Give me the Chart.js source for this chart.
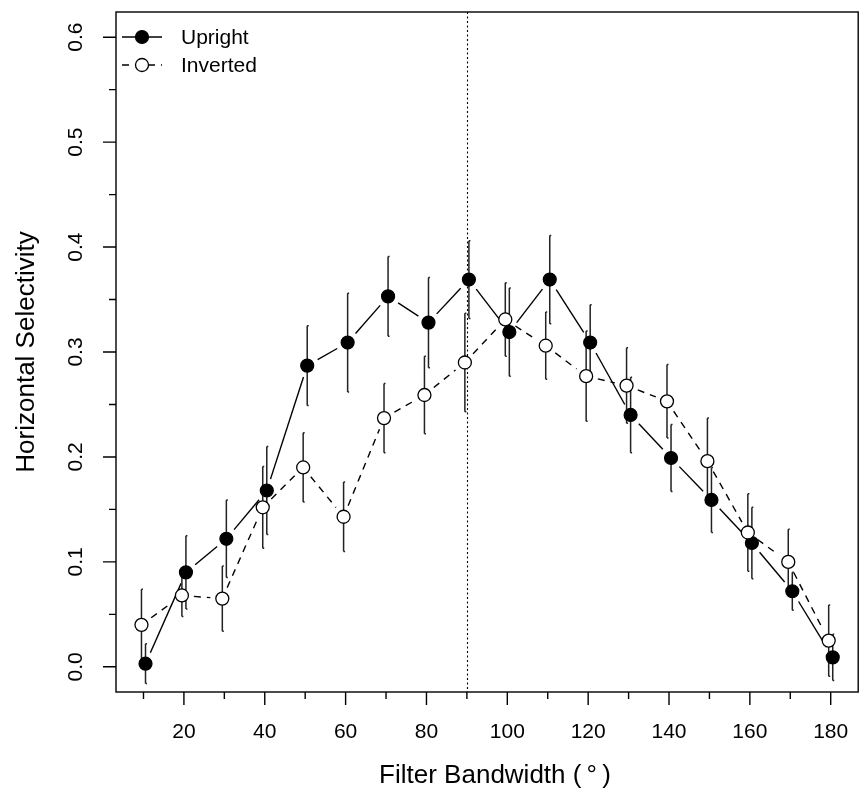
<!DOCTYPE html>
<html>
<head>
<meta charset="utf-8">
<title>Horizontal Selectivity vs Filter Bandwidth</title>
<script src="https://cdn.jsdelivr.net/npm/chart.js@4.4.1/dist/chart.umd.min.js"></script>
<style>
    html, body { margin: 0; padding: 0; background: #fff; overflow: hidden; }
    #wrap { width: 866px; height: 794px; }
</style>
</head>
<body>
<div id="wrap"><canvas id="chart" width="866" height="794"></canvas></div>
<script>
// ---- Data ----
const bandwidth = [10, 20, 30, 40, 50, 60, 70, 80, 90, 100, 110, 120, 130, 140, 150, 160, 170, 180];
const upright     = [0.003, 0.090, 0.122, 0.168, 0.287, 0.309, 0.353, 0.328, 0.369, 0.319, 0.369, 0.309, 0.240, 0.199, 0.159, 0.118, 0.072, 0.009];
const uprightErr  = [0.019, 0.035, 0.037, 0.042, 0.038, 0.047, 0.038, 0.043, 0.037, 0.042, 0.042, 0.036, 0.036, 0.032, 0.031, 0.034, 0.018, 0.022];
const inverted    = [0.040, 0.068, 0.065, 0.152, 0.190, 0.143, 0.237, 0.259, 0.290, 0.331, 0.306, 0.277, 0.268, 0.253, 0.196, 0.128, 0.100, 0.025];
const invertedErr = [0.034, 0.020, 0.031, 0.039, 0.033, 0.033, 0.033, 0.037, 0.047, 0.035, 0.032, 0.043, 0.036, 0.035, 0.041, 0.037, 0.031, 0.034];

// small horizontal dodge so the two series don't sit on top of each other
const dodge = 0.5;

// ---- Axis ticks ----
const xTickLabels = [20, 40, 60, 80, 100, 120, 140, 160, 180];
const xMinorTicks = [10, 30, 50, 70, 90, 110, 130, 150, 170];
const yTickLabels = [0.0, 0.1, 0.2, 0.3, 0.4, 0.5, 0.6];
const yMinorTicks = [0.05, 0.15, 0.25, 0.35, 0.45, 0.55];
const refLineX = 90;

const FONT = '"Liberation Sans", Arial, Helvetica, sans-serif';

function toPoints(xs, ys, shift) {
    return xs.map((x, i) => ({ x: x + shift, y: ys[i] }));
}

// ---- Plugin: R-like axes, box, reference line and labels ----
const rAxes = {
    id: 'rAxes',
    beforeDatasetsDraw(chart) {
        const { ctx, chartArea: a, scales: { x } } = chart;
        ctx.save();
        // dotted reference line
        ctx.strokeStyle = '#000';
        ctx.lineWidth = 1.1;
        ctx.setLineDash([2, 2.5]);
        const rx = Math.round(x.getPixelForValue(refLineX)) + 0.5;
        ctx.beginPath();
        ctx.moveTo(rx, a.top);
        ctx.lineTo(rx, a.bottom);
        ctx.stroke();
        ctx.restore();
    },
    afterDraw(chart) {
        const { ctx, chartArea: a, scales: { x, y } } = chart;
        ctx.save();
        ctx.strokeStyle = '#000';
        ctx.lineWidth = 1.4;
        ctx.setLineDash([]);
        ctx.strokeRect(a.left, a.top, a.right - a.left, a.bottom - a.top);

        // x ticks
        ctx.beginPath();
        xTickLabels.forEach(v => {
            const px = x.getPixelForValue(v);
            ctx.moveTo(px, a.bottom); ctx.lineTo(px, a.bottom + 13);
        });
        xMinorTicks.forEach(v => {
            const px = x.getPixelForValue(v);
            ctx.moveTo(px, a.bottom); ctx.lineTo(px, a.bottom + 7);
        });
        // y ticks
        yTickLabels.forEach(v => {
            const py = y.getPixelForValue(v);
            ctx.moveTo(a.left, py); ctx.lineTo(a.left - 13, py);
        });
        yMinorTicks.forEach(v => {
            const py = y.getPixelForValue(v);
            ctx.moveTo(a.left, py); ctx.lineTo(a.left - 7, py);
        });
        ctx.stroke();

        // tick labels
        ctx.fillStyle = '#000';
        ctx.font = '21px ' + FONT;
        ctx.textAlign = 'center';
        ctx.textBaseline = 'middle';
        xTickLabels.forEach(v => {
            ctx.fillText(String(v), x.getPixelForValue(v), a.bottom + 40);
        });
        yTickLabels.forEach(v => {
            ctx.save();
            ctx.translate(a.left - 40, y.getPixelForValue(v));
            ctx.rotate(-Math.PI / 2);
            ctx.fillText(v.toFixed(1), 0, 0);
            ctx.restore();
        });

        // axis titles
        ctx.font = '26px ' + FONT;
        ctx.fillText('Filter Bandwidth (\u2009\u00B0\u2009)', 495, 776);
        ctx.save();
        ctx.translate(27, (a.top + a.bottom) / 2);
        ctx.rotate(-Math.PI / 2);
        ctx.fillText('Horizontal Selectivity', 0, 0);
        ctx.restore();

        // legend
        ctx.font = '21px ' + FONT;
        ctx.textAlign = 'left';
        chart.data.datasets.forEach((ds, i) => {
            const ly = 37 + i * 28;
            ctx.lineWidth = 1.4;
            ctx.setLineDash(ds.rDash || []);
            ctx.beginPath();
            ctx.moveTo(122, ly); ctx.lineTo(162, ly);
            ctx.stroke();
            ctx.setLineDash([]);
            ctx.beginPath();
            ctx.arc(142, ly, ds.pointRadius, 0, Math.PI * 2);
            ctx.fillStyle = ds.pointBackgroundColor;
            ctx.fill();
            ctx.lineWidth = ds.pointBorderWidth;
            ctx.stroke();
            ctx.fillStyle = '#000';
            ctx.fillText(ds.label, 181, ly + 1);
        });
        ctx.restore();
    }
};

// ---- Plugin: error bars + connecting lines with gaps (type = "b") ----
const rSeries = {
    id: 'rSeries',
    beforeDatasetsDraw(chart) {
        const { ctx, scales: { x, y } } = chart;
        const errs = [uprightErr, invertedErr];
        ctx.save();
        chart.data.datasets.forEach((ds, di) => {
            const pts = ds.data.map(p => ({ x: x.getPixelForValue(p.x), y: y.getPixelForValue(p.y) }));
            // error bars
            ctx.strokeStyle = '#222';
            ctx.lineWidth = 1.5;
            ctx.setLineDash([]);
            ctx.beginPath();
            ds.data.forEach((p, i) => {
                const px = pts[i].x;
                const top = y.getPixelForValue(p.y + errs[di][i]);
                const bot = y.getPixelForValue(p.y - errs[di][i]);
                ctx.moveTo(px, top); ctx.lineTo(px, bot);
                ctx.moveTo(px, top); ctx.lineTo(px + 1.5, top);
                ctx.moveTo(px, bot); ctx.lineTo(px + 1.5, bot);
            });
            ctx.stroke();

            // lines between points, cut short near markers
            ctx.strokeStyle = '#000';
            ctx.lineWidth = 1.4;
            ctx.setLineDash(ds.rDash || []);
            const gap = 12;
            for (let i = 0; i < pts.length - 1; i++) {
                const p0 = pts[i], p1 = pts[i + 1];
                const dx = p1.x - p0.x, dy = p1.y - p0.y;
                const len = Math.hypot(dx, dy);
                if (len <= gap * 2) continue;
                const ux = dx / len, uy = dy / len;
                ctx.beginPath();
                ctx.moveTo(p0.x + ux * gap, p0.y + uy * gap);
                ctx.lineTo(p1.x - ux * gap, p1.y - uy * gap);
                ctx.stroke();
            }
        });
        ctx.restore();
    }
};

new Chart(document.getElementById('chart'), {
    type: 'scatter',
    data: {
        datasets: [
            {
                label: 'Upright',
                data: toPoints(bandwidth, upright, dodge),
                pointRadius: 6.5,
                pointBackgroundColor: '#000',
                pointBorderColor: '#000',
                pointBorderWidth: 1.2,
                rDash: [],
                order: 2
            },
            {
                label: 'Inverted',
                data: toPoints(bandwidth, inverted, -dodge),
                pointRadius: 6.5,
                pointBackgroundColor: '#fff',
                pointBorderColor: '#000',
                pointBorderWidth: 1.3,
                rDash: [7, 6],
                order: 1
            }
        ]
    },
    options: {
        responsive: false,
        animation: false,
        layout: { padding: { left: 116, top: 12, right: 4, bottom: 102 } },
        plugins: { legend: { display: false }, tooltip: { enabled: false } },
        scales: {
            x: { type: 'linear', min: 3.2, max: 186.8, display: false },
            y: { type: 'linear', min: -0.024, max: 0.624, display: false }
        }
    },
    plugins: [rSeries, rAxes]
});
</script>
</body>
</html>
